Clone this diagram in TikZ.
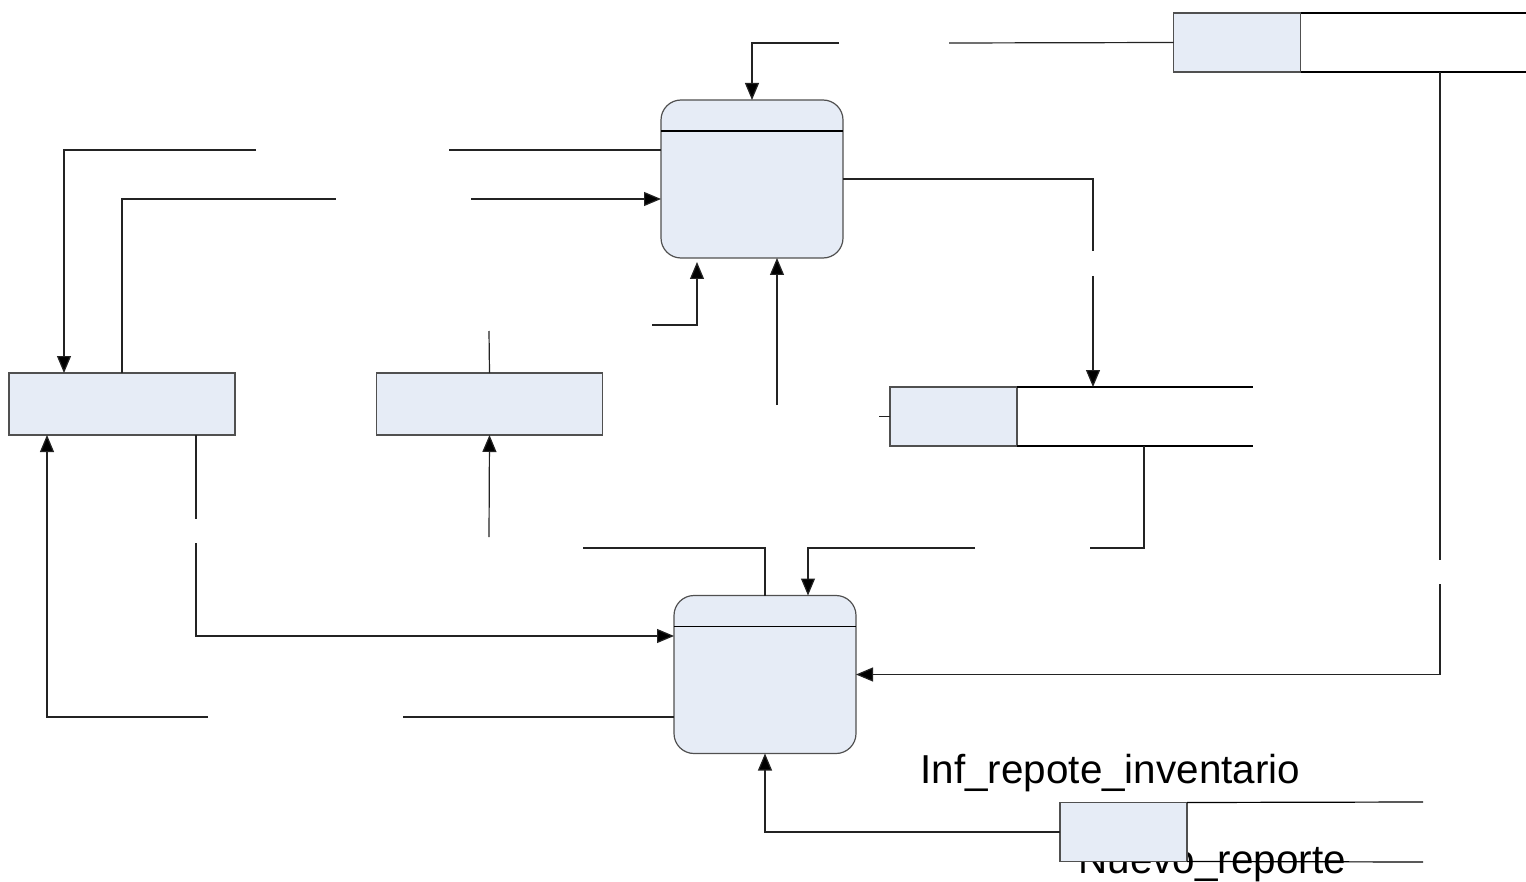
\documentclass[tikz,border=0pt]{standalone}
\usepackage{fontspec}
\setmainfont{Liberation Sans}
\usepackage{tikz}
\usetikzlibrary{arrows.meta}
\definecolor{box_fill}{RGB}{230,236,246}
\definecolor{box_gray}{RGB}{80,80,80}
\definecolor{line_gray}{RGB}{35,35,35}

\begin{document}
\begin{tikzpicture}[x=0.5pt,y=-0.5pt,line width=0.6pt,>={Triangle[length=8.5pt,width=7pt]}]
    \tikzstyle{proc}=[draw=box_gray, fill=box_fill, rounded corners=10pt, minimum width=91pt, minimum height=79pt, inner sep=0pt, outer sep=0pt]
    \tikzstyle{ent}=[draw=box_gray, fill=box_fill, minimum width=113pt, minimum height=31pt, inner sep=0pt, outer sep=0pt]
    \tikzstyle{store}=[draw=box_gray, fill=box_fill, minimum width=63.5pt, minimum height=29.5pt, inner sep=0pt, outer sep=0pt]
    \tikzstyle{flow}=[draw=line_gray, arrows={-{Triangle[length=8.5pt,width=7pt,fill=black]}}]
    \tikzstyle{plain}=[draw=line_gray]
    \tikzstyle{lbl}=[font=\fontsize{20.2}{24}\selectfont, anchor=base west, inner sep=0pt]

    \useasboundingbox (0,0) rectangle (1526,882);

    % labels (second one sits under the store box)
    \node[lbl] (t1) at (920,783) {Inf\_repote\_inventario};
    \node[lbl] (t2) at (1078,873) {Nuevo\_reporte};

    % processes
    \node[proc] (p1) at (752,179)   {};
    \draw[black] ([yshift=-15.5pt]p1.north west) -- ([yshift=-15.5pt]p1.north east);
    \node[proc] (p2) at (765,674.5) {};
    \draw[black] ([yshift=-15.5pt]p2.north west) -- ([yshift=-15.5pt]p2.north east);

    % entities
    \node[ent] (e1) at (122,404)   {};
    \node[ent] (e2) at (489.5,404) {};

    % stores
    \node[store] (d1) at (1237,42.5)  {};
    \draw (d1.north east) -- (1526,13)  (d1.south east) -- (1526,72);
    \node[store] (d2) at (953.5,416.5) {};
    \draw[line width=0.9pt] (d2.north east) -- (1253,387);
    \draw (d2.south east) -- (1253,446);
    \node[store] (d3) at (1123.5,832) {};
    \draw (d3.north east) -- (1423,802)  (d3.south east) -- (1423,862);

    % free ends and gaps
    \coordinate (g1a) at (949,43);   \coordinate (g1b) at (839,43);
    \coordinate (g2a) at (449,150);  \coordinate (g2b) at (256,150);
    \coordinate (g3a) at (336,199);  \coordinate (g3b) at (471,199);
    \coordinate (g4a) at (489,331);  \coordinate (g4b) at (652,325);
    \coordinate (t4)  at (697,262);
    \coordinate (g5)  at (777,405);
    \coordinate (g6a) at (1093,251); \coordinate (g6b) at (1093,276);
    \coordinate (c7)  at (1144,446);
    \coordinate (g7a) at (1090,548); \coordinate (g7b) at (975,548);
    \coordinate (g8)  at (583,548);
    \coordinate (c9)  at (1440,72);
    \coordinate (g9a) at (1440,560); \coordinate (g9b) at (1440,584);
    \coordinate (g10a) at (196,519); \coordinate (g10b) at (196,543);
    \coordinate (g11a) at (403,717); \coordinate (g11b) at (208,717);
    \coordinate (g12) at (489,537);

    % flows
    \draw[plain] (d1.west) -- (g1a);
    \draw[flow] (g1b) -| (p1.north);
    \draw[plain] (g2a -| p1.west) -- (g2a);
    \draw[flow] (g2b) -| ([xshift=-29pt]e1.north);
    \draw[plain] (e1.north) |- (g3a);
    \draw[flow] (g3b) -- (g3b -| p1.west);
    \draw[plain] (e2.north) -- (g4a);
    \draw[flow] (g4b) -| (t4);
    \draw[flow] (g5) -- (g5 |- p1.south);
    \draw[plain] (p1.east) -| (g6a);
    \draw[flow] (g6b) -- (g6b |- d2.north);
    \draw[plain] (d2.west) -- ++(-11,0);
    \draw[plain] (c7) |- (g7a);
    \draw[flow] (g7b) -| ([xshift=21.5pt]p2.north);
    \draw[plain] (p2.north) |- (g8);
    \draw[plain] (c9) -- (g9a);
    \draw[flow] (g9b) |- (p2.east);
    \draw[plain] ([xshift=37pt]e1.south) -- (g10a);
    \draw[flow] (g10b) |- ([yshift=19.25pt]p2.west);
    \draw[plain] ([yshift=-21.25pt]p2.west) -- (g11a);
    \draw[flow] (g11b) -| ([xshift=-37.5pt]e1.south);
    \draw[flow] (g12) -- (e2.south);
    \draw[flow] (d3.west) -| (p2.south);
\end{tikzpicture}
\end{document}
